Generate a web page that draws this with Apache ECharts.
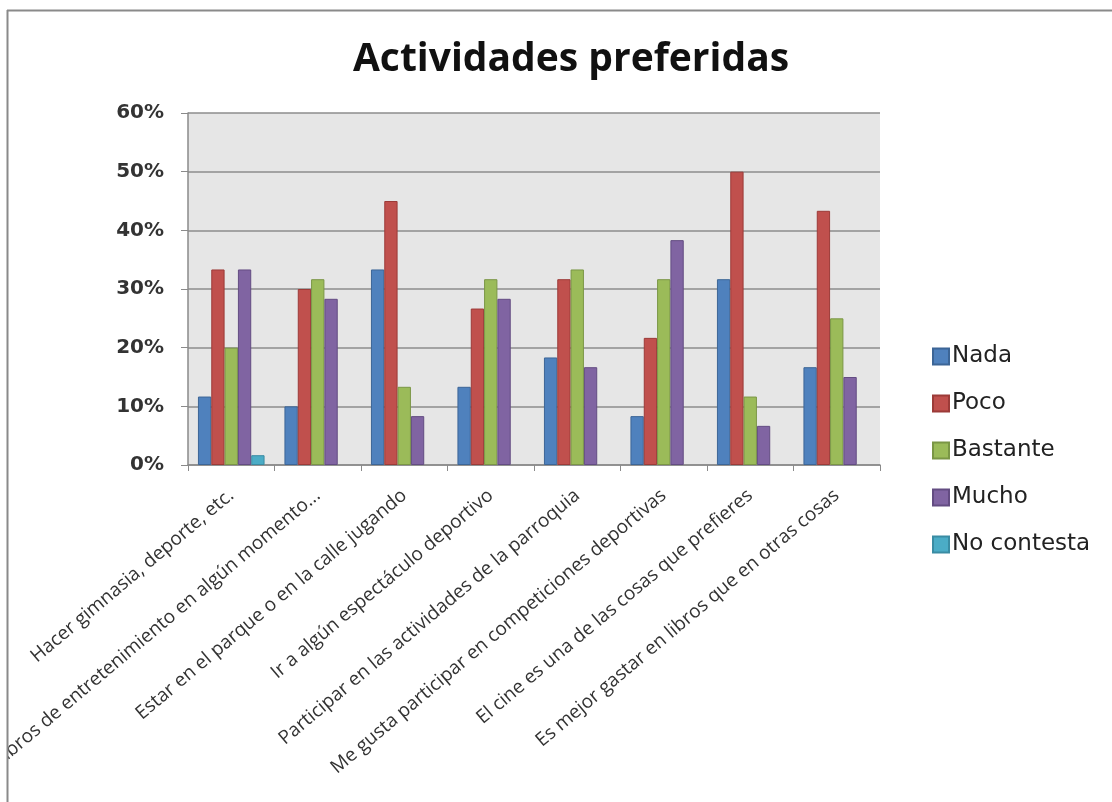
<!DOCTYPE html>
<html>
<head>
<meta charset="utf-8">
<script src="https://cdn.jsdelivr.net/npm/echarts@6/dist/echarts.min.js"></script>
<style>
html,body{margin:0;padding:0;background:#fff;}
#chart{position:absolute;left:0;top:0;width:1112px;height:802px;}
</style>
</head>
<body>
<div id="chart"></div>
<script>
const categories = [
  "Hacer gimnasia, deporte, etc.",
  "Leer libros de entretenimiento en algún momento...",
  "Estar en el parque o en la calle jugando",
  "Ir a algún espectáculo deportivo",
  "Participar en las actividades de la parroquia",
  "Me gusta participar en competiciones deportivas",
  "El cine es una de las cosas que prefieres",
  "Es mejor gastar en libros que en otras cosas"
];
const seriesNames = ["Nada", "Poco", "Bastante", "Mucho", "No contesta"];
const nada       = [11.67, 10.00, 33.33, 13.33, 18.33,  8.33, 31.67, 16.67];
const poco       = [33.33, 30.00, 45.00, 26.67, 31.67, 21.67, 50.00, 43.33];
const bastante   = [20.00, 31.67, 13.33, 31.67, 33.33, 31.67, 11.67, 25.00];
const mucho      = [33.33, 28.33,  8.33, 28.33, 16.67, 38.33,  6.67, 15.00];
const noContesta = [ 1.67, null, null, null, null, null, null, null];
const yTicks = [0, 10, 20, 30, 40, 50, 60];

const fills   = ["#4F81BD", "#C0504D", "#9BBB59", "#8064A2", "#4BACC6"];
const borders = ["#3C6596", "#9C3B38", "#7A9645", "#634C82", "#3A8CA3"];
const values  = [nada, poco, bastante, mucho, noContesta];

const chart = echarts.init(document.getElementById('chart'), null, {renderer: 'canvas'});
chart.setOption({
  backgroundColor: '#ffffff',
  animation: false,
  title: {
    text: 'Actividades preferidas',
    left: 566, top: 35, textAlign: 'center',
    textStyle: {fontFamily: 'Open Sans', fontWeight: 'bold', fontSize: 39, color: '#111'}
  },
  legend: {
    orient: 'vertical', left: 927, top: 340,
    itemWidth: 16, itemHeight: 16, itemGap: 24,
    icon: 'rect',
    data: seriesNames,
    textStyle: {fontFamily: 'DejaVu Sans', fontSize: 23, color: '#222', padding: [0,0,0,-2]}
  },
  grid: {left: 188, top: 113, width: 692, height: 352, containLabel: false, outerBoundsMode: 'none',
         show: true, backgroundColor: '#E6E6E6', borderWidth: 0},
  xAxis: {
    type: 'category', data: categories,
    axisLine: {show: true, lineStyle: {color: '#8a8a8a', width: 1.5}},
    axisTick: {show: true, length: 6, lineStyle: {color: '#8a8a8a'}},
    axisLabel: {interval: 0, rotate: 40, margin: 28, fontFamily: 'Open Sans', fontSize: 19, color: '#333'}
  },
  yAxis: {
    type: 'value', min: yTicks[0], max: yTicks[yTicks.length-1], interval: 10,
    axisLine: {show: true, lineStyle: {color: '#8a8a8a', width: 1.5}},
    axisTick: {show: true, length: 7, lineStyle: {color: '#8a8a8a'}},
    splitLine: {show: true, lineStyle: {color: '#8c8c8c', width: 1.5}},
    axisLabel: {margin: 24, formatter: '{value}%', fontFamily: 'DejaVu Sans', fontWeight: 'bold', fontSize: 20, color: '#333'}
  },
  series: seriesNames.map((n, i) => ({
    name: n, type: 'bar', data: values[i],
    barGap: '0%', barCategoryGap: '23%',
    itemStyle: {color: fills[i], borderColor: borders[i], borderWidth: 1}
  })),
  graphic: [
    {type: 'rect', z: 100, shape: {x: 0, y: 0, width: 7, height: 802}, style: {fill: '#fff'}},
    {type: 'line', z: 101, shape: {x1: 7.5, y1: 10, x2: 7.5, y2: 802}, style: {stroke: '#8a8a8a', lineWidth: 2}},
    {type: 'line', z: 101, shape: {x1: 7, y1: 10.5, x2: 1112, y2: 10.5}, style: {stroke: '#8a8a8a', lineWidth: 2}}
  ]
});
</script>
</body>
</html>
